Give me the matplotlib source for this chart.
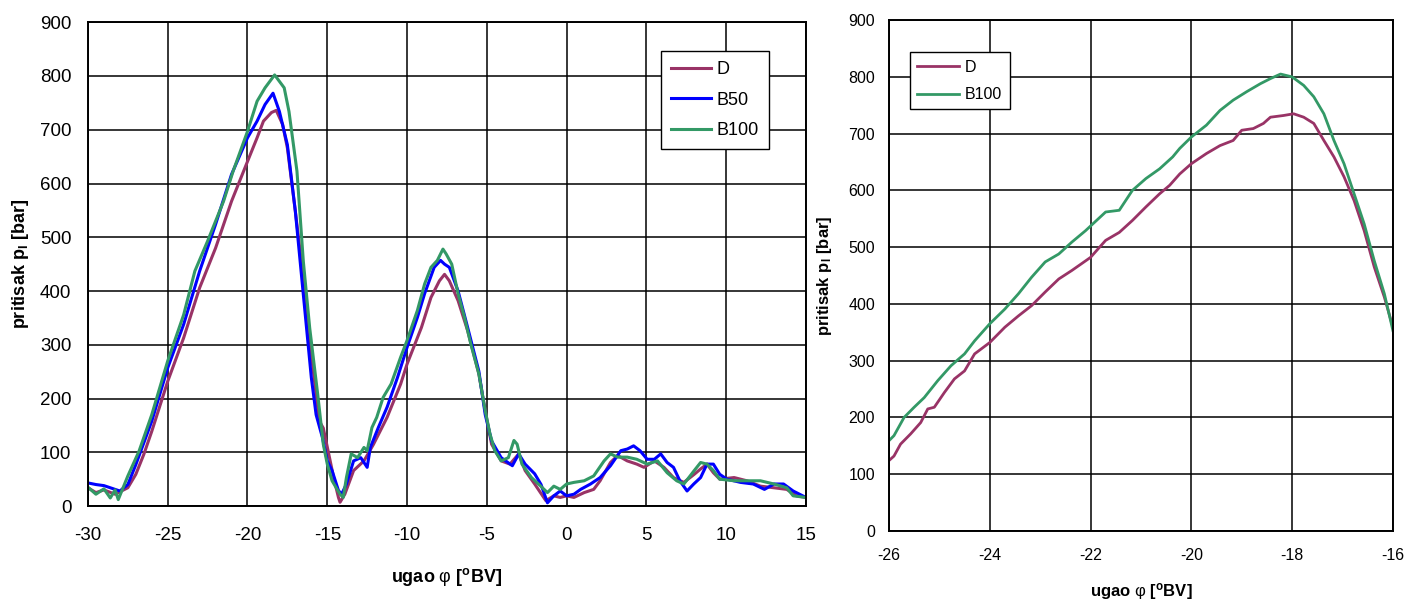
import matplotlib
matplotlib.use("Agg")
import matplotlib.pyplot as plt

plt.rcParams['font.family'] = ['Liberation Sans', 'DejaVu Sans']
plt.rcParams['mathtext.fontset'] = 'custom'
plt.rcParams['mathtext.rm'] = 'Liberation Sans'
plt.rcParams['mathtext.bf'] = 'Liberation Sans:bold'
plt.rcParams['mathtext.it'] = 'Liberation Sans:italic'
plt.rcParams['axes.unicode_minus'] = False

# left panel: full range
phi_d = [-30, -29.5, -29, -28.3, -27.5, -27, -26.5, -26, -25, -24, -23, -22, -21, -20,
         -19.4, -19, -18.5, -18.2, -17.8, -17.5, -17, -16.5, -16, -15.5, -15.25, -15,
         -14.6, -14.3, -14.2, -13.9, -13.35, -12.7, -12.1, -11.25, -10.4, -10, -9.1, -8.5,
         -7.97, -7.65, -7.35, -6.8, -6.2, -5.5, -5.1, -4.7, -4.1, -3.55, -3, -2.6, -2,
         -1.3, -0.8, -0.4, 0, 0.46, 1.1, 1.7, 2.1, 2.75, 3.2, 3.8, 4.4, 4.85, 5.5, 6.1,
         6.7, 7.35, 8, 8.4, 8.8, 9.2, 9.6, 10.5, 11.3, 12.15, 13, 13.8, 14.4, 15]
p_d = [34, 25, 30, 22, 34, 59, 96, 139, 232, 313, 406, 480, 567, 641,
       685, 716, 732, 736, 710, 666, 548, 424, 282, 158, 145, 110,
       53, 16, 7, 22, 66, 84, 115, 165, 227, 264, 332, 388,
       419, 431, 419, 382, 326, 246, 177, 115, 84, 78, 97, 66, 41,
       10, 19, 16, 19, 16, 25, 31, 47, 81, 94, 84, 78, 72, 84, 72,
       53, 44, 59, 69, 78, 62, 50, 53, 47, 37, 34, 31, 19, 16]

phi_b50 = [-30, -29.5, -29, -28.5, -28, -27.5, -27, -26, -25, -24, -23, -22, -21, -20,
           -19.4, -18.9, -18.4, -18, -17.5, -17, -16.5, -16, -15.7, -15.3, -15, -14.7,
           -14.3, -14.1, -13.8, -13.35, -12.9, -12.5, -12.3, -11.8, -11.25, -10.6, -10,
           -9.35, -8.9, -8.3, -7.9, -7.65, -7.35, -6.8, -6.2, -5.5, -5.1, -4.7, -4.1,
           -3.4, -3, -2.6, -2, -1.6, -1.2, -0.8, -0.4, 0, 0.46, 0.88, 1.5, 2.1, 2.75,
           3.4, 3.8, 4.2, 4.6, 5.05, 5.5, 5.9, 6.3, 6.7, 7.1, 7.55, 7.97, 8.4, 8.8, 9.2,
           9.6, 10.05, 10.9, 11.7, 12.4, 13, 13.6, 14.2, 15]
p_b50 = [43, 40, 38, 33, 28, 40, 77, 158, 257, 338, 437, 524, 617, 685,
         716, 747, 768, 734, 672, 548, 393, 239, 170, 127, 84, 66,
         29, 22, 41, 84, 90, 72, 109, 146, 184, 239, 295,
         351, 395, 444, 457, 450, 444, 400, 332, 251, 170, 121, 90,
         75, 97, 78, 60, 40, 6, 19, 28, 19, 22, 31, 41, 53, 75,
         103, 106, 112, 103, 87, 87, 97, 81, 72, 47, 28, 41, 53, 78, 78,
         59, 50, 44, 41, 31, 41, 41, 28, 16]

phi_b100 = [-30, -29.5, -29, -28.6, -28.3, -28.1, -27.5, -26.8, -26, -25, -24, -23.3,
            -22.5, -21.5, -20.9, -20, -19.4, -18.9, -18.3, -17.7, -17.4, -16.9, -16.5,
            -16.1, -15.6, -15.25, -15, -14.7, -14.2, -14, -13.8, -13.5, -13.1, -12.7,
            -12.5, -12.2, -11.9, -11.5, -11, -10.4, -10, -9.35, -8.9, -8.5, -8.1, -7.75,
            -7.55, -7.2, -6.8, -6.4, -6, -5.5, -5.1, -4.8, -4.5, -4.1, -3.65, -3.3, -3.1,
            -2.8, -2.2, -1.55, -1.2, -0.8, -0.4, 0, 0.46, 1.1, 1.7, 2.35, 2.75, 3.2, 3.8,
            4.4, 5.05, 5.7, 6.3, 6.9, 7.35, 8, 8.4, 8.8, 9.2, 9.6, 10.5, 11.3, 12.15, 13,
            13.8, 14.2, 15]
p_b100 = [35, 22, 32, 15, 30, 12, 56, 102, 170, 270, 356, 437,
          493, 567, 623, 697, 753, 778, 802, 778, 734, 623, 455,
          331, 208, 115, 78, 47, 22, 16, 53, 97, 90, 109,
          103, 146, 165, 202, 227, 277, 308, 364, 413, 444, 457, 478,
          469, 450, 395, 351, 301, 246, 177, 134, 103, 84, 90, 122, 115,
          78, 53, 35, 25, 37, 31, 41, 44, 47, 56, 84, 97, 91, 91,
          87, 78, 84, 62, 47, 41, 66, 81, 78, 66, 50, 47, 47, 47, 41,
          34, 19, 16]

# right panel: detail around the peak
phi_d_r = [-26, -25.9, -25.77, -25.57, -25.37, -25.23, -25.1, -24.9, -24.7, -24.5, -24.3,
           -24, -23.7, -23.43, -23.17, -22.9, -22.63, -22.37, -22, -21.7, -21.43, -21.17,
           -20.9, -20.63, -20.43, -20.23, -20, -19.7, -19.43, -19.17, -19, -18.77, -18.57,
           -18.43, -18.17, -17.97, -17.77, -17.57, -17.37, -17.17, -16.97, -16.77, -16.57,
           -16.37, -16.17, -16]
p_d_r = [124, 132, 153, 171, 191, 215, 218, 244, 268, 282, 312,
         332, 359, 379, 397, 421, 444, 459, 482, 512, 526, 547,
         571, 594, 609, 629, 647, 665, 679, 688, 706, 709, 718,
         729, 732, 735, 729, 718, 688, 659, 624, 582, 529,
         465, 412, 359]

phi_b100_r = [-26, -25.9, -25.7, -25.5, -25.3, -25.03, -24.77, -24.5, -24.3, -24, -23.7,
              -23.43, -23.17, -22.9, -22.63, -22.37, -22.1, -21.7, -21.43, -21.17, -20.9,
              -20.63, -20.37, -20.23, -20, -19.7, -19.43, -19.17, -18.9, -18.63, -18.43,
              -18.23, -18, -17.77, -17.57, -17.37, -17.17, -16.97, -16.77, -16.57, -16.37,
              -16.17, -16]
p_b100_r = [159, 168, 200, 218, 235, 265, 291, 312, 335, 365, 391,
            418, 447, 474, 488, 509, 529, 562, 565, 600, 621,
            638, 659, 674, 694, 715, 741, 759, 774, 788, 797,
            805, 800, 785, 765, 735, 688, 647, 594, 541, 476,
            418, 353]

c_d = '#993366'
c_b50 = '#0000FF'
c_b100 = '#339966'

xlabel = r'ugao $\mathrm{φ}$ [$^{\mathbf{o}}$BV]'
ylabel = r'pritisak p$_{\mathbf{I}}$ [bar]'


def style_axes(ax, fs, xpad, ypad):
    ax.grid(True, color='black', linewidth=1.1)
    ax.set_axisbelow(True)
    for s in ax.spines.values():
        s.set_linewidth(1.4)
        s.set_color('black')
    ax.tick_params(length=0, labelsize=fs)
    ax.tick_params(axis='x', pad=xpad)
    ax.tick_params(axis='y', pad=ypad)


fig = plt.figure(figsize=(14.05, 6.01), dpi=100)

ax1 = fig.add_axes([0.0626, 0.158, 0.511, 0.805])
ax1.plot(phi_d, p_d, color=c_d, lw=2.2, label='D')
ax1.plot(phi_b50, p_b50, color=c_b50, lw=2.2, label='B50')
ax1.plot(phi_b100, p_b100, color=c_b100, lw=2.2, label='B100')
ax1.set_xlim(-30, 15)
ax1.set_ylim(0, 900)
ax1.set_xticks(range(-30, 16, 5))
ax1.set_yticks(range(0, 901, 100))
style_axes(ax1, 13.5, 15, 12)
ax1.set_xlabel(xlabel, fontsize=13, fontweight='bold', labelpad=16)
ax1.set_ylabel(ylabel, fontsize=13, fontweight='bold', labelpad=6)
leg1 = ax1.legend(loc='upper right', bbox_to_anchor=(0.948, 0.94), fontsize=13,
                  frameon=True, fancybox=False, edgecolor='black', framealpha=1,
                  handlelength=2.2, handletextpad=0.3, labelspacing=0.75,
                  borderpad=0.55, borderaxespad=0)
leg1.get_frame().set_linewidth(1.0)

ax2 = fig.add_axes([0.6327, 0.1165, 0.3587, 0.850])
ax2.plot(phi_d_r, p_d_r, color=c_d, lw=2.0, label='D')
ax2.plot(phi_b100_r, p_b100_r, color=c_b100, lw=2.0, label='B100')
ax2.set_xlim(-26, -16)
ax2.set_ylim(0, 900)
ax2.set_xticks(range(-26, -15, 2))
ax2.set_yticks(range(0, 901, 100))
style_axes(ax2, 11.5, 12, 10)
ax2.set_xlabel(xlabel, fontsize=12, fontweight='bold', labelpad=13)
ax2.set_ylabel(ylabel, fontsize=12, fontweight='bold', labelpad=10)
leg2 = ax2.legend(loc='upper left', bbox_to_anchor=(0.042, 0.937), fontsize=11.5,
                  frameon=True, fancybox=False, edgecolor='black', framealpha=1,
                  handlelength=2.6, handletextpad=0.4, labelspacing=0.8,
                  borderpad=0.45, borderaxespad=0)
leg2.get_frame().set_linewidth(1.0)

fig.savefig('out.png', dpi=100)
